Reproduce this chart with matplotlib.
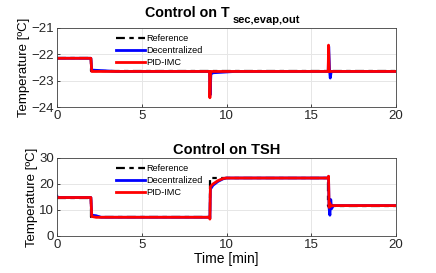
import matplotlib
matplotlib.use("Agg")
import matplotlib.pyplot as plt

plt.rcParams['font.family'] = ['Liberation Sans', 'DejaVu Sans']

# ---- Data: top panel (T_sec,evap,out) ----
ref1_t = [0, 2.0, 2.0, 20]
ref1_y = [-22.15, -22.15, -22.65, -22.65]
dec1_t = [0, 2.0, 2.05, 2.1, 3.5, 9.0, 9.03, 9.08, 9.2, 10.5, 16.0, 16.03, 16.08, 16.12, 16.18, 16.3, 20]
dec1_y = [-22.15, -22.15, -22.6, -22.6, -22.65, -22.65, -23.55, -22.75, -22.7, -22.65, -22.65, -21.7, -22.6, -22.9, -22.65, -22.65, -22.65]
pid1_t = [0, 2.0, 2.05, 9.0, 9.02, 9.06, 16.0, 16.02, 16.06, 20]
pid1_y = [-22.15, -22.15, -22.65, -22.65, -23.65, -22.65, -22.65, -21.65, -22.65, -22.65]

# ---- Data: bottom panel (TSH) ----
ref2_t = [0, 2.0, 2.0, 9.0, 9.0, 16.0, 16.0, 20]
ref2_y = [14.8, 14.8, 7.3, 7.3, 22.3, 22.3, 11.7, 11.7]
dec2_t = [0, 0.05, 0.1, 2.0, 2.05, 2.3, 2.6, 9.0, 9.02, 9.05, 9.2, 9.5, 9.8, 10.0, 16.0, 16.02, 16.05, 16.1, 16.15, 16.2, 16.3, 20]
dec2_y = [15.3, 14.8, 14.8, 14.8, 8.0, 7.8, 7.2, 7.2, 6.8, 18.0, 19.5, 21.0, 22.0, 22.3, 22.3, 22.8, 11.0, 8.0, 14.0, 10.5, 11.7, 11.7]
pid2_t = [0, 2.0, 2.05, 2.3, 9.0, 9.02, 9.05, 9.2, 9.5, 9.8, 10.0, 16.0, 16.02, 16.05, 16.1, 16.15, 16.3, 20]
pid2_y = [14.8, 14.8, 7.5, 7.2, 7.2, 6.5, 19.0, 20.0, 21.3, 22.1, 22.3, 22.3, 23.0, 11.0, 12.5, 11.5, 11.7, 11.7]

labels = ['Reference', 'Decentralized', 'PID-IMC']
xticks = [0, 5, 10, 15, 20]

fig = plt.figure(figsize=(4.36, 2.73), dpi=100)
ax1 = fig.add_axes([57/436, 1-107/273, 339/436, 79/273])
ax2 = fig.add_axes([57/436, 1-236/273, 339/436, 78/273])

def draw(ax, rt, ry, dt, dy, pt, py):
    ax.plot(rt, ry, color='black', lw=1.6, dashes=(4, 2, 2, 2), label=labels[0])
    ax.plot(dt, dy, color='#0000ff', lw=2, label=labels[1])
    ax.plot(pt, py, color='#ff0000', lw=2, label=labels[2])
    ax.set_xlim(0, 20)
    ax.set_xticks(xticks)
    ax.grid(True, color='#e6e6e6', lw=0.7)
    ax.set_axisbelow(True)
    for s in ax.spines.values():
        s.set_color('#404040')
        s.set_linewidth(0.6)
    ax.tick_params(labelsize=9.5, length=2, width=0.6, direction='in', colors='#262626', pad=2)
    ax.set_ylabel('Temperature [ºC]', fontsize=9.5, labelpad=1)
    ax.legend(loc='upper left', bbox_to_anchor=(0.155, 1.0), frameon=False,
              fontsize=6.6, handlelength=3.2, handletextpad=0.1, labelspacing=0.3,
              borderaxespad=0.3)

draw(ax1, ref1_t, ref1_y, dec1_t, dec1_y, pid1_t, pid1_y)
ax1.set_ylim(-24, -21)
ax1.set_yticks([-24, -23, -22, -21])
ax1.annotate('Control on T', xy=(0.51, 1.0), xycoords='axes fraction',
             xytext=(0, 11), textcoords='offset pixels', ha='right', va='baseline',
             fontsize=10.3, fontweight='bold')
ax1.annotate('sec,evap,out', xy=(0.517, 1.0), xycoords='axes fraction',
             xytext=(0, 5), textcoords='offset pixels', ha='left', va='baseline',
             fontsize=8, fontweight='bold')

draw(ax2, ref2_t, ref2_y, dec2_t, dec2_y, pid2_t, pid2_y)
ax2.set_ylim(0, 30)
ax2.set_yticks([0, 10, 20, 30])
ax2.set_title('Control on TSH', fontsize=10.5, fontweight='bold', pad=3)
ax2.set_xlabel('Time [min]', fontsize=10, labelpad=1)

fig.savefig('out.png', dpi=100)
